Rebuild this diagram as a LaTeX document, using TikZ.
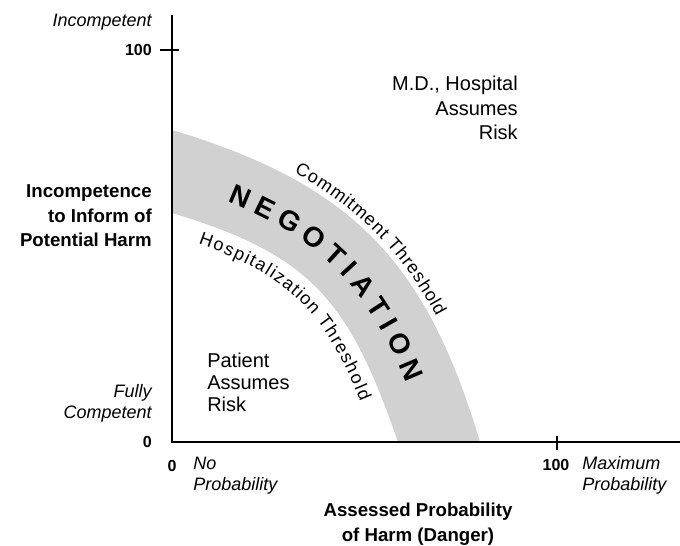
\documentclass[tikz,border=0pt]{standalone}
\usepackage{fontspec}
\setmainfont{Liberation Sans}
\usetikzlibrary{positioning,decorations.text}

\tikzset{
  axis/.style={line width=2pt},
  band/.style={fill=gray!36},
  lbl/.style={font=\fontsize{14}{18.4}\selectfont\bfseries, align=right, inner sep=0pt},
  note/.style={font=\fontsize{13.5}{15.7}\selectfont\itshape, inner sep=0pt},
  num/.style={font=\fontsize{12}{14}\selectfont\bfseries, inner sep=0pt},
  zone/.style={font=\fontsize{15}{16.5}\selectfont, inner sep=0pt},
}

\begin{document}
\begin{tikzpicture}[x=0.75pt,y=-0.75pt]
  \useasboundingbox (0,0) rectangle (680,545);

  % shaded negotiation band
  \fill[band] (172,130) .. controls (352,184) and (426,261) .. (480,442)
        -- (398,442) .. controls (349,301) and (312,255) .. (172,213) -- cycle;

  % axes
  \coordinate (O) at (172,442);
  \coordinate (ytop) at (172,15);
  \coordinate (xend) at (680,442);
  \draw[axis] (ytop) -- (O) -- (xend);
  \coordinate (ya) at (160,50);
  \coordinate (yb) at (179,50);
  \draw[axis] (ya) -- (yb);
  \coordinate (xa) at (557,436);
  \coordinate (xb) at (557,450);
  \draw[axis] (xa) -- (xb);

  % texts along the band
  \path[decorate, decoration={text along path, raise=4pt,
        text align={left indent=96pt},
        text={|\fontsize{13.5}{16}\selectfont\kern0.6pt|Commitment Threshold}}]
        (172,130) .. controls (352,184) and (426,261) .. (480,442);
  \path[decorate, decoration={text along path, raise=-16pt,
        text align={left indent=25pt},
        text={|\fontsize{13.5}{16}\selectfont\kern1.6pt|Hospitalization Threshold}}]
        (172,213) .. controls (312,255) and (349,301) .. (398,442);
  \path[decorate, decoration={text along path, raise=-8pt,
        text align={left indent=47pt},
        text={|\fontsize{21}{24}\selectfont\bfseries|N E G O T I A T I O N}}]
        (172,171.5) .. controls (332,219.5) and (387.5,281) .. (439,442);

  % y axis labels
  \node[note, anchor=east] (incomp) at (152,22) {Incompetent};
  \node[num, anchor=east] (y100) at (152,50) {100};
  \node[lbl, anchor=east] (ylabel) at (152,216) {Incompetence\\to Inform of\\Potential Harm};
  \node[note, anchor=east, align=right] (fully) at (152,403) {Fully\\Competent};
  \node[num, anchor=east] (y0) at (152,442) {0};

  % x axis labels
  \node[num] (x0) at (172,466) {0};
  \node[note, anchor=west, align=left] (noprob) at (193,476) {No\\Probability};
  \node[num] (x100) at (556,465) {100};
  \node[note, anchor=west, align=left] (maxprob) at (582,475) {Maximum\\Probability};
  \node[lbl, align=center] (xlabel) at (418,524) {Assessed Probability\\of Harm (Danger)};

  % zones
  \node[zone, anchor=north west, align=left] (patient) at (207,353) {Patient\\Assumes\\Risk};
  \node[zone, anchor=east, align=right, font=\fontsize{15}{18.4}\selectfont] (md) at (518,108) {M.D., Hospital\\Assumes\\Risk};
\end{tikzpicture}
\end{document}
